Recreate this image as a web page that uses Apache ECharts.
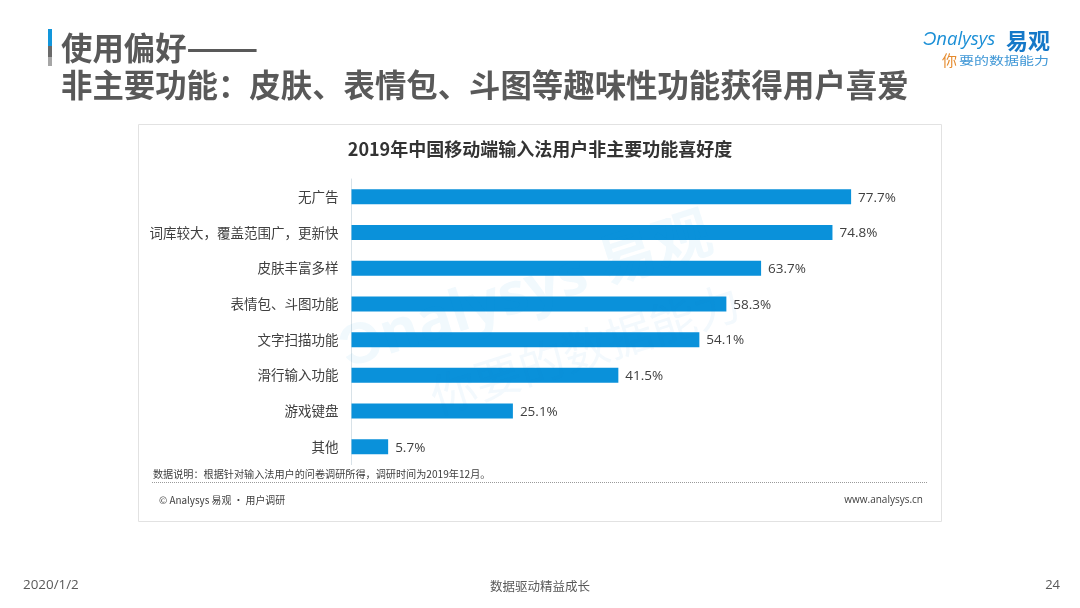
<!DOCTYPE html>
<html>
<head>
<meta charset="utf-8">
<title>使用偏好</title>
<style>
  html, body { margin: 0; padding: 0; background: #fff; }
  #main { width: 1080px; height: 608px; }
</style>
<script src="https://cdn.jsdelivr.net/npm/echarts@6/dist/echarts.min.js"></script>
</head>
<body>
<div id="main"></div>
<script>
const categories = ['无广告', '词库较大，覆盖范围广，更新快', '皮肤丰富多样', '表情包、斗图功能', '文字扫描功能', '滑行输入功能', '游戏键盘', '其他']
const shares = [77.7, 74.8, 63.7, 58.3, 54.1, 41.5, 25.1, 5.7]

const FONT = '"Open Sans", "Noto Sans CJK SC", sans-serif'
const CJK = '"Noto Sans CJK SC", sans-serif'

const chart = echarts.init(document.getElementById('main'), null, { renderer: 'canvas' })

function label(x, y, text, font, size, color, extra, transform) {
  return Object.assign({
    type: 'text', x: x, y: y, z: 5, silent: true,
    style: Object.assign({
      text: text, fontFamily: font, fontSize: size, fill: color,
      textAlign: 'left', textVerticalAlign: 'middle'
    }, extra || {})
  }, transform || {})
}

function box(x, y, w, h, fill) {
  return { type: 'rect', z: 5, silent: true, shape: { x: x, y: y, width: w, height: h }, style: { fill: fill } }
}

const option = {
  animation: false,
  backgroundColor: '#fff',
  grid: { left: 351.5, top: 179, width: 578.7, height: 285.6, containLabel: false },
  xAxis: { type: 'value', min: 0, max: 90, show: false },
  yAxis: {
    type: 'category',
    inverse: true,
    data: categories,
    axisTick: { show: false },
    axisLine: { lineStyle: { color: '#d8e2e8', width: 1 } },
    axisLabel: { color: '#404040', fontFamily: CJK, fontSize: 13.5, margin: 13 }
  },
  series: [{
    type: 'bar',
    data: shares,
    barWidth: 15,
    z: 3,
    itemStyle: { color: '#0a91da' },
    label: {
      show: true,
      position: 'right',
      distance: 7,
      offset: [0, 1],
      color: '#404040',
      fontFamily: FONT,
      fontSize: 13.5,
      formatter: p => p.value.toFixed(1) + '%'
    }
  }],
  graphic: [
    // 卡片边框
    { type: 'rect', z: -1, silent: true, shape: { x: 138.5, y: 124.5, width: 803, height: 397 }, style: { fill: '#fff', stroke: '#e2e2e2', lineWidth: 1 } },

    // 水印
    label(342, 352, 'Ͻnalysys 易观', FONT, 58, 'rgba(10,145,218,0.06)', { fontWeight: 'bold' }, { rotation: 0.31 }),
    label(432, 398, '你要的数据能力', CJK, 46, 'rgba(10,145,218,0.05)', null, { rotation: 0.31 }),

    // 标题
    box(48, 29, 4, 17, '#1296db'),
    box(48, 46, 4, 11, '#6a6a6a'),
    box(48, 57, 4, 9, '#a6a6a6'),
    label(61, 48, '使用偏好', CJK, 31.4, '#595959', { fontWeight: 'bold' }),
    label(186, 48, '——', CJK, 31.4, '#595959', { fontWeight: 'bold' }, { scaleX: 1.36 }),
    label(61, 85, '非主要功能：皮肤、表情包、斗图等趣味性功能获得用户喜爱', CJK, 31.4, '#595959', { fontWeight: 'bold' }),

    // logo
    label(923, 40, 'Ͻnalysys', FONT, 18.5, '#1b8fd6', { fontStyle: 'italic' }),
    label(1006, 41, '易观', CJK, 22, '#1578c8', { fontWeight: 'bold' }),
    label(942, 60, '你', CJK, 15, '#e58a2c'),
    label(959, 61, '要的数据能力', CJK, 15, '#3f97d6', null, { scaleY: 0.78 }),

    // 图表标题
    label(540, 149, '2019年中国移动端输入法用户非主要功能喜好度', CJK, 18, '#333333', { fontWeight: 'bold', textAlign: 'center' }),

    // 说明和来源
    label(153, 474, '数据说明：根据针对输入法用户的问卷调研所得，调研时间为2019年12月。', CJK, 10.15, '#404040'),
    { type: 'line', z: 5, silent: true, shape: { x1: 152, y1: 482.5, x2: 928, y2: 482.5 }, style: { stroke: '#9a9a9a', lineWidth: 1, lineDash: [1, 1] } },
    label(159, 500, '© Analysys 易观 · 用户调研', CJK, 9.9, '#404040'),
    label(923, 500, 'www.analysys.cn', FONT, 10, '#404040', { textAlign: 'right' }),

    // 页脚
    label(23, 585, '2020/1/2', FONT, 13.4, '#595959'),
    label(540, 586, '数据驱动精益成长', CJK, 12.5, '#595959', { textAlign: 'center' }),
    label(1060, 585, '24', FONT, 13, '#595959', { textAlign: 'right' })
  ]
}

chart.setOption(option)
</script>
</body>
</html>
